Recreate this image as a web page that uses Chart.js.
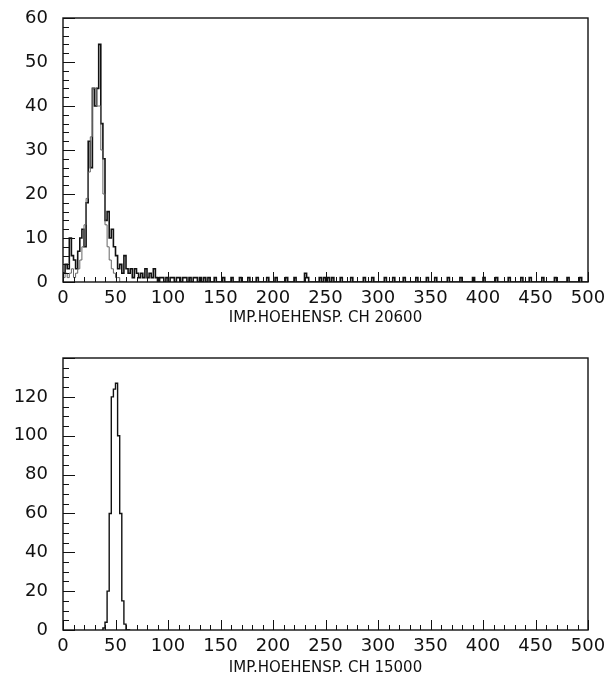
<!DOCTYPE html>
<html>
<head>
<meta charset="utf-8">
<script src="https://cdn.jsdelivr.net/npm/chart.js@4"></script>
<style>
    html, body { margin: 0; padding: 0; background: #fff; }
    canvas { position: absolute; left: 0; }
    #upper { top: 0; }
    #lower { top: 340px; }
</style>
</head>
<body>
<canvas id="upper" width="606" height="340"></canvas>
<canvas id="lower" width="606" height="343"></canvas>
<script>
// histogram data, bin width 2

const binWidth = 2;
const xTickLabels = [0, 50, 100, 150, 200, 250, 300, 350, 400, 450, 500];

// upper panel: CH 20600
const upperTitle = 'IMP.HOEHENSP. CH 20600';
const upperPeakCounts = [1, 2, 4, 3, 10, 6, 5, 3, 7, 10, 12, 8, 18, 32, 26, 44, 40, 44, 54, 36,
    28, 14, 16, 10, 12, 8, 6, 3, 4, 2, 6, 3, 2, 3, 1, 3, 2, 1, 2, 1,
    3, 1, 2, 1, 3, 1, 0, 1, 1, 0];
const upperTailBins = [100, 104, 106, 110, 112, 116, 118, 122, 126, 128, 132, 136, 140, 146, 154, 162,
    170, 178, 186, 196, 204, 214, 222, 232, 234, 246, 250, 254, 258, 266, 276, 288, 296,
    308, 316, 326, 338, 348, 356, 368, 380, 392, 402, 414, 426, 438, 446, 458, 470, 482, 494];
const upperTailCounts = [1, 1, 1, 1, 1, 1, 1, 1, 1, 1, 1, 1, 1, 1, 1, 1,
    1, 1, 1, 1, 1, 1, 1, 2, 1, 1, 1, 1, 1, 1, 1, 1, 1,
    1, 1, 1, 1, 1, 1, 1, 1, 1, 1, 1, 1, 1, 1, 1, 1, 1, 1];
// second (thin) histogram overlaid on the peak
const upperSecondCounts = [0, 1, 2, 1, 2, 3, 1, 2, 3, 5, 8, 13, 19, 25, 33, 44, 44, 40, 40, 30,
    20, 13, 8, 5, 3, 2, 1, 1, 0, 0];
const upperYLabels = [0, 10, 20, 30, 40, 50, 60];

// lower panel: CH 15000
const lowerTitle = 'IMP.HOEHENSP. CH 15000';
const lowerStart = 38;
const lowerCounts = [0, 1, 4, 20, 60, 120, 124, 127, 100, 60, 15, 3, 0];
const lowerYLabels = [0, 20, 40, 60, 80, 100, 120];

function histPoints(start, counts) {
    const pts = counts.map((c, i) => ({ x: start + i * binWidth, y: c }));
    pts.push({ x: start + counts.length * binWidth, y: 0 });
    return pts;
}

const upperCounts = new Array(250).fill(0);
upperPeakCounts.forEach((c, i) => { upperCounts[i] = c; });
upperTailBins.forEach((x, i) => { upperCounts[x / binWidth] = upperTailCounts[i]; });

// box with inward ticks, like the old HIGZ plots
const framePlugin = {
    id: 'frame',
    afterDraw(chart, args, opts) {
        const { ctx, chartArea: a, scales: { x, y } } = chart;
        ctx.save();
        ctx.strokeStyle = '#111';
        ctx.lineWidth = 1;
        ctx.beginPath();
        for (let v = x.min; v <= x.max; v += opts.xMinor) {
            const px = Math.round(x.getPixelForValue(v)) + 0.5;
            const len = v % opts.xMajor === 0 ? 10 : 5;
            ctx.moveTo(px, a.bottom);
            ctx.lineTo(px, a.bottom - len);
        }
        for (let v = y.min; v <= y.max; v += opts.yMinor) {
            const py = Math.round(y.getPixelForValue(v)) + 0.5;
            const len = v % opts.yMajor === 0 ? 12 : 6;
            ctx.moveTo(a.left, py);
            ctx.lineTo(a.left + len, py);
        }
        ctx.stroke();
        ctx.lineWidth = 1.4;
        ctx.strokeRect(a.left, a.top, a.right - a.left, a.bottom - a.top);
        ctx.restore();
    }
};

const labelFont = { family: 'DejaVu Sans', size: 18 };

function makeOptions(yMax, yLabels, yMinor, xHeight, title, titlePad) {
    return {
        responsive: false,
        animation: false,
        layout: { padding: { top: 18, right: 18, left: 0, bottom: 0 } },
        plugins: {
            legend: { display: false },
            tooltip: { enabled: false },
            frame: { xMinor: 10, xMajor: 50, yMinor: yMinor, yMajor: yLabels[1] - yLabels[0] }
        },
        scales: {
            x: {
                type: 'linear',
                min: 0,
                max: 500,
                afterFit: s => { s.height = xHeight; s.paddingLeft = 0; s.paddingRight = 0; },
                afterBuildTicks: s => { s.ticks = xTickLabels.map(v => ({ value: v })); },
                grid: { display: false, drawTicks: false },
                border: { display: false },
                ticks: { font: labelFont, color: '#111', padding: 6, maxRotation: 0, autoSkip: false },
                title: {
                    display: true,
                    text: title,
                    color: '#111',
                    font: { family: 'DejaVu Sans', size: 15 },
                    padding: { top: 0, bottom: titlePad }
                }
            },
            y: {
                min: 0,
                max: yMax,
                afterFit: s => { s.width = 63; s.paddingTop = 0; s.paddingBottom = 0; },
                afterBuildTicks: s => { s.ticks = yLabels.map(v => ({ value: v })); },
                grid: { display: false, drawTicks: false },
                border: { display: false },
                ticks: { font: labelFont, color: '#111', padding: 15 }
            }
        }
    };
}

new Chart(document.getElementById('upper'), {
    type: 'line',
    data: {
        datasets: [
            {
                data: histPoints(0, upperSecondCounts),
                stepped: 'after',
                borderColor: '#666',
                borderWidth: 1,
                pointRadius: 0
            },
            {
                data: histPoints(0, upperCounts),
                stepped: 'after',
                borderColor: '#111',
                borderWidth: 1.6,
                pointRadius: 0
            }
        ]
    },
    options: makeOptions(60, upperYLabels, 2, 58, upperTitle, 13),
    plugins: [framePlugin]
});

new Chart(document.getElementById('lower'), {
    type: 'line',
    data: {
        datasets: [{
            data: histPoints(lowerStart, lowerCounts),
            stepped: 'after',
            borderColor: '#111',
            borderWidth: 1.4,
            pointRadius: 0
        }]
    },
    options: makeOptions(140, lowerYLabels, 5, 53, lowerTitle, 6),
    plugins: [framePlugin]
});
</script>
</body>
</html>
